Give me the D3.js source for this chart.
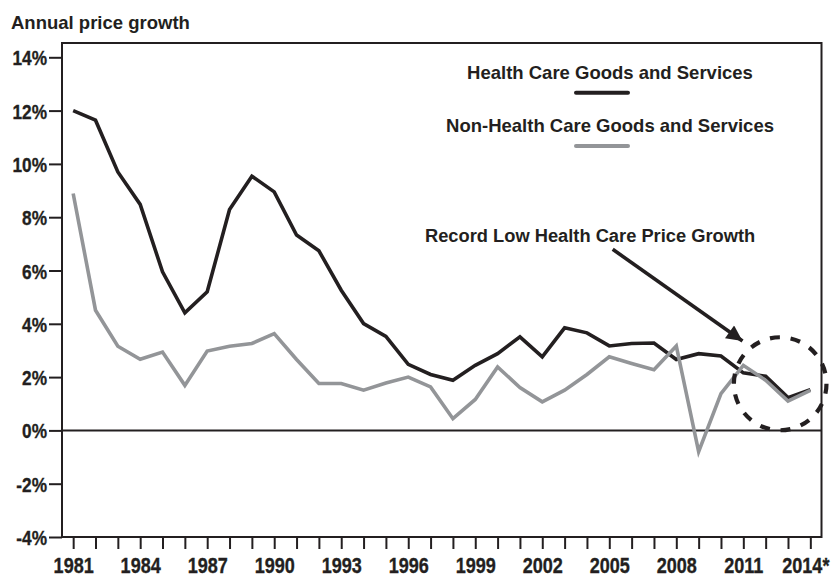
<!DOCTYPE html>
<html lang="en">
<head>
<meta charset="UTF-8">
<title>Annual price growth</title>
<script src="https://cdnjs.cloudflare.com/ajax/libs/d3/7.8.0/d3.min.js"></script>
<style>
    body { margin: 0; background: #fff; }
    svg { display: block; }
    .narrow { font-family: "Liberation Sans", Arial, sans-serif; font-weight: bold; fill: #231f20; stroke: #231f20; stroke-width: 0.35px; }
    .bold { font-family: "Liberation Sans", Arial, sans-serif; font-weight: bold; fill: #231f20; }
</style>
</head>
<body>
<svg id="viz" width="834" height="578"></svg>
<script>
    // data
    const years = d3.range(1981, 2015);
    const health = [12.0, 11.64, 9.7, 8.48, 5.95, 4.41, 5.2, 8.29, 9.54, 8.95, 7.33, 6.74,
        5.26, 4.01, 3.53, 2.48, 2.1, 1.88, 2.44, 2.88, 3.51, 2.76, 3.85, 3.66, 3.17, 3.26,
        3.28, 2.66, 2.88, 2.79, 2.16, 2.03, 1.23, 1.53];
    const nonHealth = [8.89, 4.51, 3.16, 2.67, 2.94, 1.69, 2.98, 3.16, 3.26, 3.63, 2.66, 1.76,
        1.76, 1.51, 1.78, 2.0, 1.63, 0.44, 1.16, 2.38, 1.61, 1.07, 1.51, 2.1, 2.76, 2.51,
        2.28, 3.17, -0.8, 1.38, 2.44, 1.88, 1.1, 1.5];
    const yTicks = [-4, -2, 0, 2, 4, 6, 8, 10, 12, 14];
    const xLabelYears = [1981, 1984, 1987, 1990, 1993, 1996, 1999, 2002, 2005, 2008, 2011, 2014];

    const ink = "#231f20";
    const grey = "#939598";

    const svg = d3.select("#viz");
    const mLeft = 62, mRight = 821.5, mTop = 43, mBottom = 537;

    const x = d3.scaleLinear().domain([1980.5, 2014.5]).range([mLeft, mRight]);
    const y = d3.scaleLinear().domain([-4, 14]).range([mBottom, 57.3]);

    // squeeze text to look like a condensed face
    function condense(sel, k) {
        sel.each(function () {
            const len = this.getComputedTextLength();
            if (len > 0) {
                d3.select(this).attr("textLength", len * k).attr("lengthAdjust", "spacingAndGlyphs");
            }
        });
    }

    // title
    svg.append("text").attr("class", "bold")
        .attr("x", 11).attr("y", 29)
        .style("font-size", "18.5px")
        .text("Annual price growth");

    // frame
    svg.append("rect")
        .attr("x", mLeft).attr("y", mTop)
        .attr("width", mRight - mLeft).attr("height", mBottom - mTop)
        .attr("fill", "none").attr("stroke", ink).attr("stroke-width", 2);

    // zero line
    svg.append("line")
        .attr("x1", mLeft).attr("x2", mRight)
        .attr("y1", y(0)).attr("y2", y(0))
        .attr("stroke", ink).attr("stroke-width", 2);

    // y axis
    const yAxis = svg.append("g")
        .attr("transform", "translate(" + mLeft + ",0)")
        .call(d3.axisLeft(y).tickValues(yTicks).tickSize(13).tickPadding(2)
            .tickFormat(d => d + "%"));
    yAxis.select(".domain").remove();
    yAxis.selectAll(".tick line").attr("stroke", ink).attr("stroke-width", 2);
    yAxis.selectAll(".tick text")
        .attr("class", "narrow")
        .style("font-size", "21px")
        .attr("dy", "0.36em")
        .call(condense, 0.82);

    // x axis
    const xAxis = svg.append("g")
        .attr("transform", "translate(0," + mBottom + ")")
        .call(d3.axisBottom(x).tickValues(years).tickSize(12).tickPadding(8)
            .tickFormat(d => xLabelYears.includes(d) ? (d === 2014 ? "2014*" : d) : ""));
    xAxis.select(".domain").remove();
    xAxis.selectAll(".tick line").attr("stroke", ink).attr("stroke-width", 2);
    xAxis.selectAll(".tick text")
        .attr("class", "narrow")
        .style("font-size", "22px")
        .attr("dy", "0.71em")
        .attr("dx", d => d === 2014 ? -5 : 0)
        .call(condense, 0.82);

    // series
    const line = d3.line().x((d, i) => x(years[i])).y(d => y(d));

    svg.append("path").datum(health)
        .attr("d", line)
        .attr("fill", "none").attr("stroke", ink)
        .attr("stroke-width", 3.6).attr("stroke-linejoin", "miter");

    svg.append("path").datum(nonHealth)
        .attr("d", line)
        .attr("fill", "none").attr("stroke", grey)
        .attr("stroke-width", 3.6).attr("stroke-linejoin", "miter");

    // legend
    const legend = [
        { label: "Health Care Goods and Services", color: ink, ty: 79.3, ly: 92.7 },
        { label: "Non-Health Care Goods and Services", color: grey, ty: 131.7, ly: 146 }
    ];
    legend.forEach(l => {
        svg.append("text").attr("class", "bold")
            .attr("x", 610).attr("y", l.ty)
            .attr("text-anchor", "middle")
            .style("font-size", "18.5px")
            .text(l.label);
        svg.append("line")
            .attr("x1", 576).attr("x2", 628)
            .attr("y1", l.ly).attr("y2", l.ly)
            .attr("stroke", l.color).attr("stroke-width", 4)
            .attr("stroke-linecap", "round");
    });

    // annotation
    svg.append("text").attr("class", "bold")
        .attr("x", 425).attr("y", 241.7)
        .style("font-size", "18.3px")
        .text("Record Low Health Care Price Growth");

    svg.append("defs").append("marker")
        .attr("id", "head")
        .attr("viewBox", "0 0 10 10")
        .attr("refX", 10).attr("refY", 5)
        .attr("markerWidth", 6).attr("markerHeight", 4.4)
        .attr("markerUnits", "strokeWidth")
        .attr("orient", "auto")
        .append("path").attr("d", "M0,0 L10,5 L0,10 Z").attr("fill", ink);

    svg.append("line")
        .attr("x1", 612.7).attr("y1", 249.3)
        .attr("x2", 742.5).attr("y2", 341)
        .attr("stroke", ink).attr("stroke-width", 3.6)
        .attr("marker-end", "url(#head)");

    // dashed ring around the last years
    svg.append("ellipse")
        .attr("cx", x(2012.65)).attr("cy", y(1.75))
        .attr("rx", 46.3).attr("ry", 46.5)
        .attr("fill", "none").attr("stroke", ink)
        .attr("stroke-width", 4.2)
        .attr("stroke-dasharray", "10 10.8");
</script>
</body>
</html>
